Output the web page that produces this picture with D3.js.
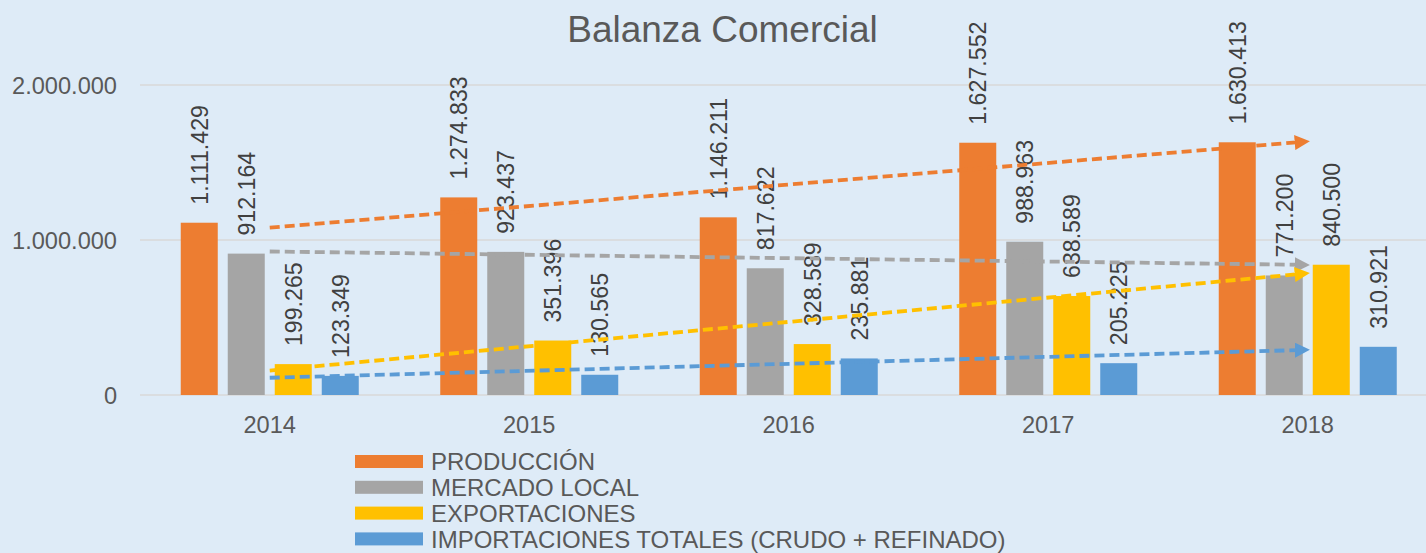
<!DOCTYPE html>
<html><head><meta charset="utf-8">
<script src="https://cdn.jsdelivr.net/npm/d3@7/dist/d3.min.js"></script>
<style>
html,body{margin:0;padding:0;background:#DEEBF7;}
svg{display:block;font-family:"Liberation Sans",Arial,sans-serif;}
</style></head>
<body>
<svg id="c" width="1426" height="553"></svg>
<script>
const years = ["2014","2015","2016","2017","2018"];
const seriesNames = ["PRODUCCIÓN","MERCADO LOCAL","EXPORTACIONES","IMPORTACIONES TOTALES (CRUDO + REFINADO)"];
const produccion = [1111429,1274833,1146211,1627552,1630413];
const mercadoLocal = [912164,923437,817622,988963,771200];
const exportaciones = [199265,351396,328589,638589,840500];
const importaciones = [123349,130565,235881,205225,310921];
const yTicks = [0,1000000,2000000];
const colors = ["#ED7D31","#A5A5A5","#FFC000","#5B9BD5"];

const series = [produccion, mercadoLocal, exportaciones, importaciones];
const fmt = v => d3.format(",")(v).replace(/,/g,".");

const svg = d3.select("#c");
svg.append("rect").attr("width",1426).attr("height",553).attr("fill","#DEEBF7");

const x = d3.scaleBand().domain(years).range([140,1437.5]).paddingInner(0).paddingOuter(0);
const y = d3.scaleLinear().domain([0,2000000]).range([395,85]);
const inner = d3.scaleBand().domain(d3.range(4)).range([0,178]).paddingInner(10/47).paddingOuter(0);
const groupOffset = (x.bandwidth()-178)/2;

// title
svg.append("text").attr("x",722.5).attr("y",42).attr("text-anchor","middle")
  .attr("font-size",37).attr("fill","#595959").text("Balanza Comercial");

// gridlines
svg.append("g").selectAll("line").data(yTicks).join("line")
  .attr("x1",140).attr("x2",1426).attr("y1",d=>y(d)).attr("y2",d=>y(d))
  .attr("stroke","#D9D9D9").attr("stroke-width",1.5);

// y axis labels
const yAxis = d3.axisLeft(y).tickValues(yTicks).tickFormat(fmt).tickSize(0).tickPadding(0);
const gy = svg.append("g").attr("transform","translate(117,0)").call(yAxis);
gy.select(".domain").remove();
gy.selectAll("text").attr("font-size",23.6).attr("fill","#595959").attr("font-family","Liberation Sans, Arial, sans-serif").attr("dy","0.36em");

// x axis labels
const xAxis = d3.axisBottom(x).tickSize(0).tickPadding(0);
const gx = svg.append("g").attr("transform","translate(0,416)").call(xAxis);
gx.select(".domain").remove();
gx.selectAll("text").attr("font-size",23.6).attr("fill","#595959").attr("font-family","Liberation Sans, Arial, sans-serif").attr("dy","0.7em");

// bars
const bars = svg.append("g");
series.forEach((vals,si)=>{
  bars.selectAll(null).data(vals).join("rect")
    .attr("x",(d,i)=>x(years[i])+groupOffset+inner(si))
    .attr("width",inner.bandwidth())
    .attr("y",d=>y(d)).attr("height",d=>y(0)-y(d))
    .attr("fill",colors[si]);
});

// labels
const labels = svg.append("g");
series.forEach((vals,si)=>{
  labels.selectAll(null).data(vals).join("text")
    .attr("transform",(d,i)=>{
      const cx = x(years[i])+groupOffset+inner(si)+inner.bandwidth()/2;
      return `translate(${cx},${y(d)-18}) rotate(-90)`;
    })
    .attr("dy","0.36em").attr("text-anchor","start")
    .attr("font-size",23.2).attr("fill","#404040").text(d=>fmt(d));
});

// trendlines (linear regression of each series)
const defs = svg.append("defs");
colors.forEach((c,si)=>{
  defs.append("marker").attr("id","arr"+si).attr("viewBox","0 0 10 10")
    .attr("refX",2).attr("refY",5).attr("markerWidth",4.0).attr("markerHeight",4.0)
    .attr("markerUnits","strokeWidth").attr("orient","auto")
    .append("path").attr("d","M0,0L10,5L0,10Z").attr("fill",c);
});
const xs = d3.range(5);
series.forEach((vals,si)=>{
  const mx = d3.mean(xs), my = d3.mean(vals);
  const slope = d3.sum(xs,(xi,i)=>(xi-mx)*(vals[i]-my))/d3.sum(xs,xi=>(xi-mx)*(xi-mx));
  const icpt = my - slope*mx;
  const cx = i => x(years[i])+x.bandwidth()/2;
  const x1 = cx(0), x2 = cx(4)-10;
  const y1 = y(icpt), y2v = icpt+slope*4;
  const yEnd = y(y2v);
  const yAdj = y1 + (yEnd-y1)*(x2-x1)/(cx(4)-x1);
  svg.append("line").attr("x1",x1).attr("y1",y1).attr("x2",x2).attr("y2",yAdj)
    .attr("stroke",colors[si]).attr("stroke-width",3.8)
    .attr("stroke-dasharray","10,5").attr("marker-end",`url(#arr${si})`);
});

// legend
const lg = svg.append("g");
seriesNames.forEach((n,i)=>{
  const cy = 461.5 + i*25.8;
  lg.append("rect").attr("x",355).attr("y",cy-6.5).attr("width",68).attr("height",13).attr("fill",colors[i]);
  lg.append("text").attr("x",431).attr("y",cy).attr("dy","0.36em").attr("font-size",24)
    .attr("fill","#595959").text(n);
});
</script>
</body></html>
